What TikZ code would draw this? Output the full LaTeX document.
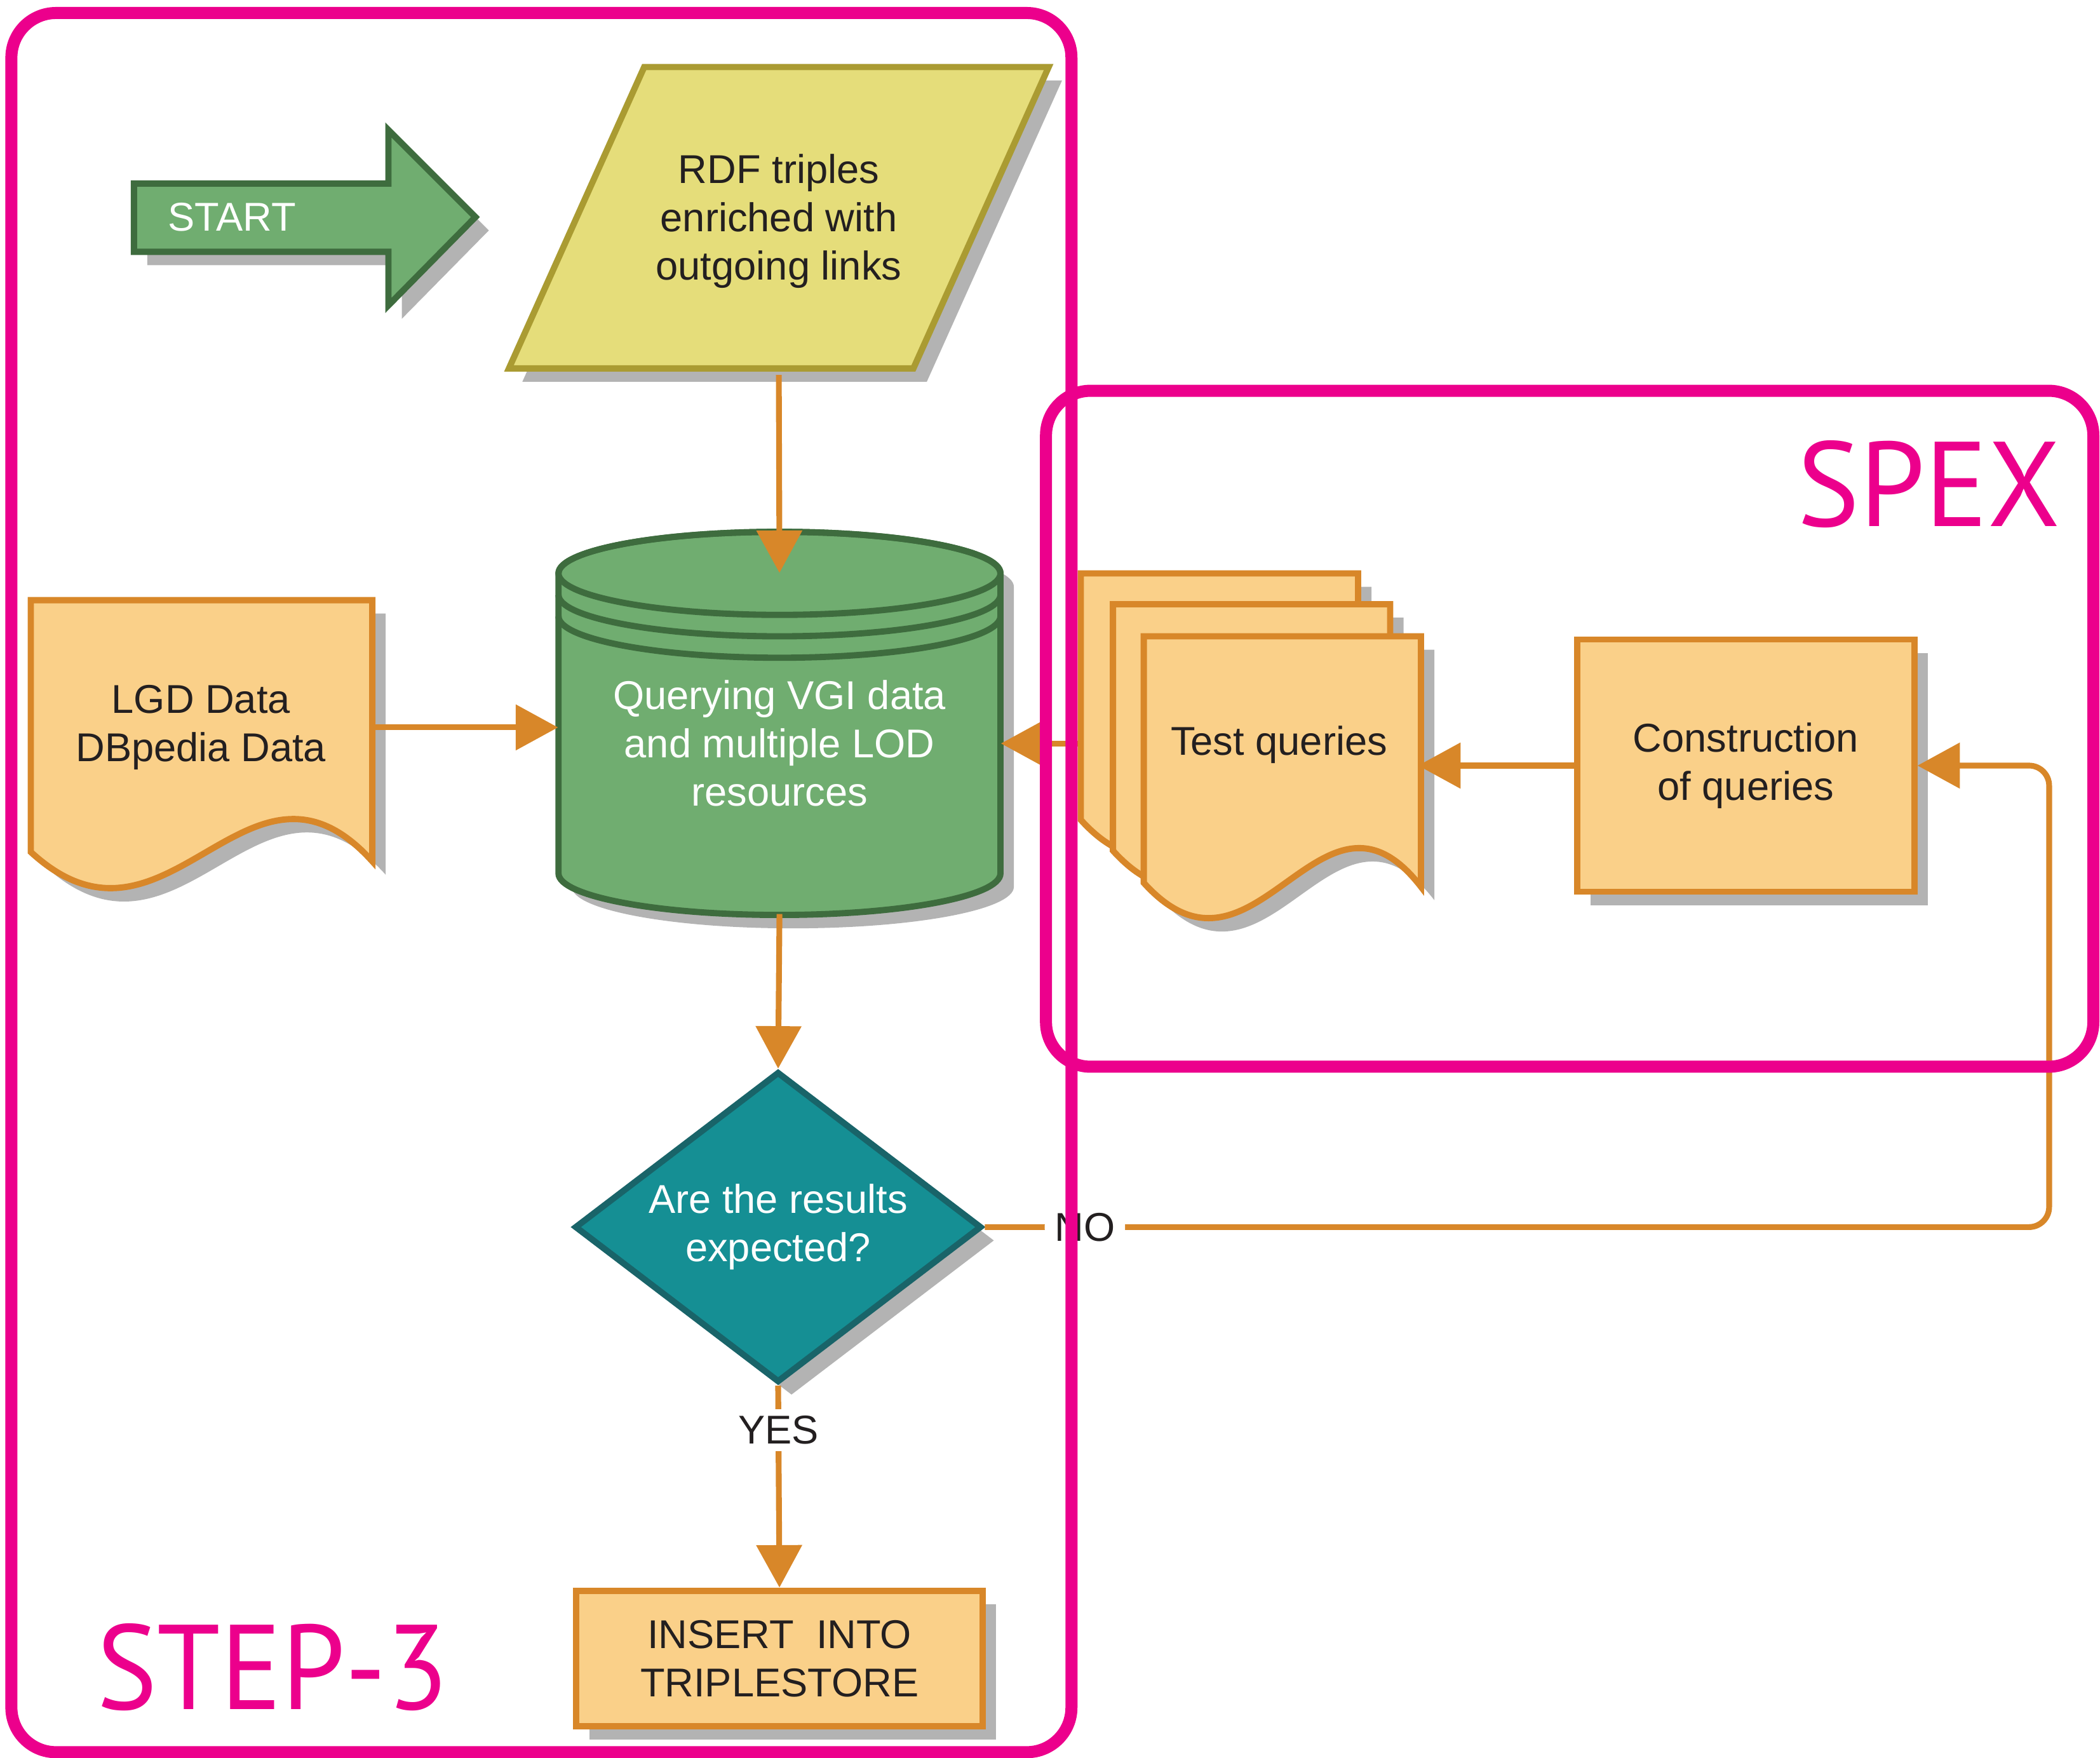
\documentclass[tikz,border=0pt]{standalone}
\usepackage{fontspec}
\setmainfont{Liberation Sans}
\newfontfamily\markfont{PT Sans}
\usetikzlibrary{arrows.meta,shapes.geometric,shadows}

\definecolor{pinkmark}{RGB}{236,0,140}
\definecolor{flowline}{RGB}{216,135,41}
\definecolor{paperfill}{RGB}{250,208,137}
\definecolor{rdffill}{RGB}{229,221,122}
\definecolor{rdfline}{RGB}{170,155,50}
\definecolor{dbfill}{RGB}{112,173,112}
\definecolor{dbline}{RGB}{62,108,62}
\definecolor{askfill}{RGB}{21,143,148}
\definecolor{askline}{RGB}{25,100,105}
\definecolor{shadowgray}{RGB}{179,179,179}
\definecolor{inktext}{RGB}{35,31,32}

\begin{document}
\begin{tikzpicture}[x=0.6pt,y=-0.6pt,
    every node/.style={inner sep=0pt,align=center,text=inktext,font=\fontsize{18}{21.6}\selectfont},
    boxshadow/.style={drop shadow={shadow xshift=6pt,shadow yshift=-6pt,fill=shadowgray,opacity=1}},
    paper/.style={fill=paperfill,draw=flowline,line width=2.8pt,boxshadow},
    flow/.style={draw=flowline,line width=2.6pt,-{Triangle[length=19pt,width=20pt]}},
    lbl/.style={fill=white,inner xsep=4.5pt,inner ysep=3pt},
    groupline/.style={draw=pinkmark,line width=5.4pt,rounded corners=20pt},
    grouptext/.style={text=pinkmark,font=\markfont\fontsize{54}{54}\selectfont}]
    \useasboundingbox (0,0) rectangle (1568,1312);

    \filldraw[fill=dbfill,draw=dbline,line width=2.8pt,boxshadow]
        (100,137) -- (290,137) -- (290,97) -- (355,162) -- (290,228) -- (290,188) -- (100,188) -- cycle;
    \node[text=white,anchor=west] (start) at (125,162) {START};

    \filldraw[fill=rdffill,draw=rdfline,line width=2.8pt,boxshadow]
        (380,275) -- (481,50) -- (783,50) -- (682,275) -- cycle;
    \node[minimum height=137.4pt] (rdf) at (581.5,165) {RDF triples\\enriched with\\outgoing links};

    \filldraw[paper] (23,448) -- (278,448) -- (278,643) .. controls (185,540) and (125,730) .. (23,636) -- cycle;
    \node[minimum width=153.6pt,minimum height=113.4pt] (lgd) at (150,543) {LGD Data\\DBpedia Data};

    \filldraw[fill=dbfill,draw=dbline,line width=2.8pt,boxshadow]
        (417,428) -- (417,652) arc[start angle=180,end angle=0,x radius=165,y radius=31]
        -- (747,428) arc[start angle=360,end angle=180,x radius=165,y radius=31] -- cycle;
    \draw[dbline,line width=2.8pt] (582,428) ellipse[x radius=165,y radius=31]
        (417,444) arc[start angle=180,end angle=0,x radius=165,y radius=31]
        (417,460) arc[start angle=180,end angle=0,x radius=165,y radius=31];
    \node[text=white,minimum width=198pt,minimum height=152.4pt] (query) at (582,555)
        {Querying VGI data\\and multiple LOD\\resources};

    \filldraw[paper] (807,428) -- (1014,428) -- (1014,615) .. controls (939,518) and (890,704) .. (807,612) -- cycle;
    \filldraw[paper] (831,451) -- (1038,451) -- (1038,638) .. controls (963,541) and (914,727) .. (831,635) -- cycle;
    \filldraw[paper] (854,475) -- (1061,475) -- (1061,662) .. controls (986,565) and (937,751) .. (854,659) -- cycle;
    \node[minimum width=124.2pt] (tq) at (955,556) {Test queries};
    \coordinate (tqback) at (807,555);

    \node[paper,minimum width=151pt,minimum height=113pt] (cons) at (1303.5,571.5) {Construction\\of queries};

    \node[diamond,aspect=1.31,fill=askfill,draw=askline,line width=2.8pt,boxshadow,text=white,
        minimum width=182.4pt,minimum height=139.2pt] (ask) at (581,916) {Are the results\\expected?};

    \node[paper,minimum width=182pt,minimum height=60.7pt] (store) at (582,1238) {INSERT\ \ INTO\\TRIPLESTORE};
    \coordinate (noturn) at (1530,916);

    \draw[flow] (rdf.south) -- (query.north);
    \draw[flow] (lgd.east) -- (lgd.east -| query.west);
    \draw[flow] (tqback) -- (query.east);
    \draw[flow] (cons.west) -- (cons.west -| tq.east);
    \draw[flow] (query.south) -- (ask.north);
    \draw[flow] (ask.south) -- node[lbl,pos=0.22] {YES} (store.north);
    \draw[flow,rounded corners=9pt] (ask.east) -- node[lbl,pos=0.094] {NO} (noturn) |- (cons.east);

    \draw[groupline] (8.5,9.7) rectangle (800,1308);
    \draw[groupline] (781,291.7) rectangle (1563,796.3);
    \node[grouptext,anchor=base east] (spex) at (1539,393) {\scalebox{0.975}[1]{SPEX}};
    \node[grouptext,anchor=base west] (step) at (72,1276) {\scalebox{0.945}[1]{STEP-3}};
\end{tikzpicture}
\end{document}
